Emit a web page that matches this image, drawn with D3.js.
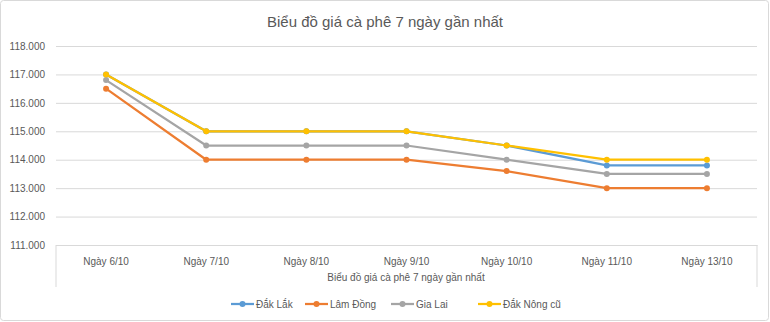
<!DOCTYPE html>
<html><head><meta charset="utf-8">
<script src="https://cdn.jsdelivr.net/npm/d3@7"></script>
<style>body{margin:0;background:#fff}svg{display:block;font-family:"Liberation Sans",Arial,sans-serif}</style>
</head><body><svg id="c" width="770" height="322"></svg>
<script>
const categories = ["Ngày 6/10","Ngày 7/10","Ngày 8/10","Ngày 9/10","Ngày 10/10","Ngày 11/10","Ngày 13/10"];
const seriesNames = ["Đắk Lắk","Lâm Đồng","Gia Lai","Đắk Nông cũ"];
const dakLak   = [117, 115, 115, 115, 114.5, 113.8, 113.8];
const lamDong  = [116.5, 114, 114, 114, 113.6, 113, 113];
const giaLai   = [116.8, 114.5, 114.5, 114.5, 114, 113.5, 113.5];
const dakNong  = [117, 115, 115, 115, 114.5, 114, 114];
const yTicks = [111,112,113,114,115,116,117,118];
const colors = ["#5b9bd5","#ed7d31","#a5a5a5","#ffc000"];
const title = "Biểu đồ giá cà phê 7 ngày gần nhất";

const series = [dakLak, lamDong, giaLai, dakNong];
const svg = d3.select("#c");
svg.append("rect").attr("x",0.5).attr("y",0.5).attr("width",768).attr("height",320).attr("rx",3)
  .attr("fill","#fff").attr("stroke","#d9d9d9");

const L=56, R=757, T=46, B=245;
const x = d3.scaleBand().domain(categories).range([L,R]);
const y = d3.scaleLinear().domain([111,118]).range([B,T]);
const fmt = v => d3.format(".3f")(v);

svg.append("text").attr("x",385).attr("y",27).attr("text-anchor","middle")
  .attr("font-size",15).attr("fill","#595959").text(title);

// grid
const ga = svg.append("g").attr("transform",`translate(${L},0)`)
  .call(d3.axisLeft(y).tickValues(yTicks).tickSize(-(R-L)).tickFormat(d=>fmt(d)));
ga.select(".domain").remove();
ga.selectAll(".tick line").attr("stroke","#d9d9d9");
ga.selectAll(".tick text").attr("x",-11).attr("font-size",10).attr("fill","#595959")
  .attr("font-family","Liberation Sans, Arial, sans-serif");

// x axis frame
svg.append("line").attr("x1",L).attr("x2",L).attr("y1",B).attr("y2",287).attr("stroke","#d9d9d9");
svg.append("line").attr("x1",R).attr("x2",R).attr("y1",B).attr("y2",287).attr("stroke","#d9d9d9");
const xa = svg.append("g").attr("transform",`translate(0,${B})`)
  .call(d3.axisBottom(x).tickSize(0).tickPadding(13));
xa.select(".domain").attr("stroke","#d9d9d9");
xa.selectAll(".tick text").attr("font-size",10).attr("fill","#595959")
  .attr("font-family","Liberation Sans, Arial, sans-serif");

svg.append("text").attr("x",406).attr("y",281).attr("text-anchor","middle")
  .attr("font-size",10).attr("fill","#595959").text(title);

const line = d3.line().x((d,i)=>x(categories[i])+x.bandwidth()/2).y(d=>y(d));
series.forEach((s,k)=>{
  const g = svg.append("g");
  g.append("path").attr("d",line(s)).attr("fill","none").attr("stroke",colors[k])
    .attr("stroke-width",2.25).attr("stroke-linejoin","round");
  g.selectAll("circle").data(s).join("circle")
    .attr("cx",(d,i)=>x(categories[i])+x.bandwidth()/2).attr("cy",d=>y(d))
    .attr("r",3).attr("fill",colors[k]);
});

// legend
const legX = [231,305,391,478];
seriesNames.forEach((n,k)=>{
  const g = svg.append("g").attr("transform",`translate(${legX[k]},304)`);
  g.append("line").attr("x1",0).attr("x2",23).attr("stroke",colors[k]).attr("stroke-width",2.25);
  g.append("circle").attr("cx",11.5).attr("r",3).attr("fill",colors[k]);
  g.append("text").attr("x",25).attr("y",4).attr("font-size",10).attr("fill","#595959").text(n);
});
</script></body></html>
